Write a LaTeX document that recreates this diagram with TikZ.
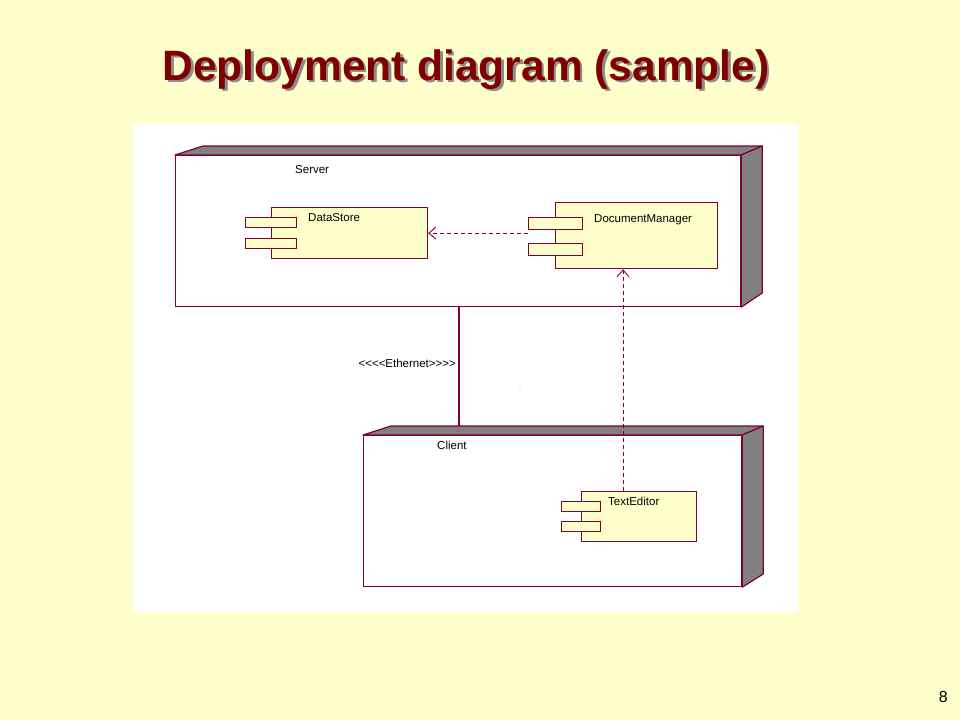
\documentclass[tikz,border=0pt]{standalone}
\usepackage{fontspec}
\setmainfont{Liberation Sans}
\usetikzlibrary{arrows.meta, calc}
\definecolor{slide}{RGB}{255,255,204}
\definecolor{umlline}{RGB}{128,0,48}
\definecolor{umlfill}{RGB}{255,255,204}
\definecolor{titlered}{RGB}{128,0,0}

\begin{document}
\begin{tikzpicture}[x=1pt,y=-1pt,
  nodebox/.style={draw=umlline, line width=1.2pt, fill=white, inner sep=0pt, anchor=north west},
  face/.style={draw=umlline, line width=1.2pt, fill=black!50, line join=round},
  comp/.style={draw=umlline, line width=1.2pt, fill=umlfill, inner sep=0pt, anchor=north west},
  lbl/.style={font=\fontsize{11.5}{13}\selectfont, inner sep=0pt, anchor=base west},
  dep/.style={draw=umlline, line width=0.9pt, dash pattern=on 4pt off 3pt, -{Straight Barb[length=7pt, width=12pt]}}]
\fill[slide] (0,0) rectangle (960,720);
\useasboundingbox (0,0) rectangle (960,720);
\fill[white] (133,124) rectangle (798,612);
% title, with its shadow
\node[font=\fontsize{42.5}{50}\selectfont\bfseries, text=titlered, anchor=base] (title) at (466,80)
  {\makebox[0pt][l]{\hspace{2.5pt}\raisebox{-2.5pt}{\color{black!45}Deployment diagram (sample)}}Deployment diagram (sample)};
\node[font=\fontsize{16}{18}\selectfont, inner sep=0pt, anchor=base east] (pageno) at (948,702) {8};

% server node
\node[nodebox, minimum width=565pt, minimum height=151pt] (server) at (175,155) {};
\draw[face] (server.north west) -- ++(28,-9) -- ($(server.north east)+(21,-9)$) -- (server.north east) -- cycle;
\draw[face] (server.north east) -- ++(21,-9) -- ++(0,147) -- (server.south east) -- cycle;
\node[lbl] (serverlbl) at (295,173) {Server};

% ethernet link
\draw[draw=umlline, line width=1.2pt] ($(server.south west)+(284,0)$) -- (459,435);
\node[lbl, anchor=base east] (ethlbl) at (456,367) {<{}<{}<{}<Ethernet>{}>{}>{}>};
\fill[black!40] (520,387) circle (0.6);

% client node
\node[nodebox, minimum width=378pt, minimum height=151pt] (client) at (363,435) {};
\draw[face] (client.north west) -- ++(28,-9) -- ($(client.north east)+(21,-9)$) -- (client.north east) -- cycle;
\draw[face] (client.north east) -- ++(21,-9) -- ++(0,148) -- (client.south east) -- cycle;
\node[lbl] (clientlbl) at (437,449) {Client};

% components
\node[comp, minimum width=156pt, minimum height=51pt] (ds) at (271,207) {};
\node[comp, minimum width=51pt, minimum height=10pt] (dsp1) at (245,217) {};
\node[comp, minimum width=51pt, minimum height=10pt] (dsp2) at (245,238) {};
\node[lbl] (dslbl) at (308,221) {DataStore};

\node[comp, minimum width=162pt, minimum height=66pt] (dm) at (555,202) {};
\node[comp, minimum width=54pt, minimum height=12pt] (dmp1) at (528,217) {};
\node[comp, minimum width=54pt, minimum height=12pt] (dmp2) at (528,243) {};
\node[lbl] (dmlbl) at (594,222) {DocumentManager};

\node[comp, minimum width=115pt, minimum height=50pt] (te) at (581,491) {};
\node[comp, minimum width=39pt, minimum height=10pt] (tep1) at (561,501) {};
\node[comp, minimum width=39pt, minimum height=10pt] (tep2) at (561,521) {};
\node[lbl] (telbl) at (608,505) {TextEditor};

% dependencies
\draw[dep] (ds.east -| dmp1.west) -- (ds.east);
\draw[dep] ($(te.north west)+(42,0)$) -- ($(dm.south west)+(68,0)$);
\end{tikzpicture}
\end{document}
